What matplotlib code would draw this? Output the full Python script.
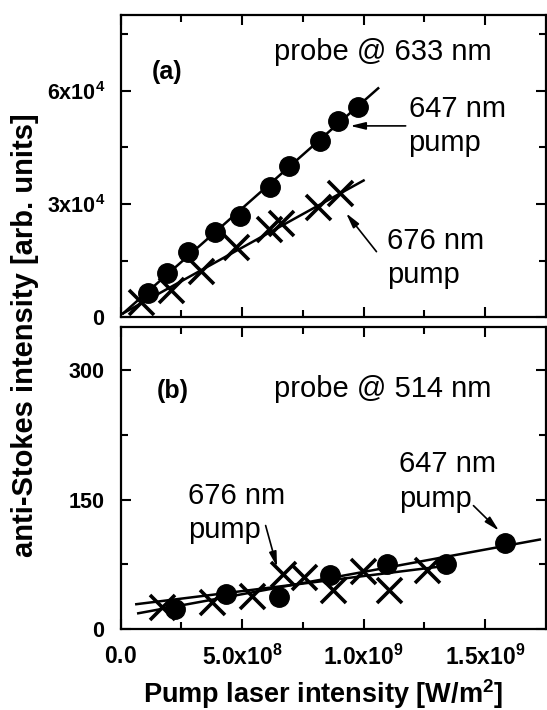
import matplotlib
matplotlib.use('Agg')
import matplotlib.pyplot as plt
from matplotlib.ticker import FixedLocator

plt.rcParams['font.family'] = ['Liberation Sans', 'DejaVu Sans']
plt.rcParams['mathtext.fontset'] = 'custom'
plt.rcParams['mathtext.rm'] = 'Liberation Sans'
plt.rcParams['mathtext.bf'] = 'Liberation Sans:bold'
plt.rcParams['mathtext.it'] = 'Liberation Sans:italic'

# ---------------- data ----------------
# panel (a): probe @ 633 nm
a_647_x = [1.14e8, 1.90e8, 2.76e8, 3.90e8, 4.92e8, 6.15e8, 6.93e8, 8.20e8, 8.96e8, 9.79e8]
a_647_y = [6350, 11650, 17210, 22670, 26820, 34420, 40060, 46760, 52050, 55600]
a_676_x = [0.86e8, 2.08e8, 3.33e8, 4.76e8, 6.10e8, 6.62e8, 8.12e8, 9.04e8]
a_676_y = [4130, 7230, 12340, 18690, 23300, 25050, 29280, 32990]
a_fit647_x = [0.10e8, 1.06e9]
a_fit647_y = [1000, 60600]
a_fit676_x = [0.11e8, 1.00e9]
a_fit676_y = [1060, 36200]

# panel (b): probe @ 514 nm
b_647_x = [2.24e8, 4.35e8, 6.53e8, 8.63e8, 1.097e9, 1.338e9, 1.58e9]
b_647_y = [23, 41, 37, 63, 75, 76, 100]
b_676_x = [1.70e8, 3.77e8, 5.41e8, 6.67e8, 7.55e8, 8.74e8, 9.96e8, 1.106e9, 1.26e9]
b_676_y = [26, 31, 39, 64, 61, 45, 67, 46, 69]
b_fit647_x = [0.73e8, 1.725e9]
b_fit647_y = [18.5, 103.8]
b_fit676_x = [0.65e8, 1.30e9]
b_fit676_y = [29, 72]

x_ticks = [0.0, 5.0e8, 1.0e9, 1.5e9]
x_ticklabels = [r'$\mathbf{0.0}$', r'$\mathbf{5.0x10^{8}}$', r'$\mathbf{1.0x10^{9}}$', r'$\mathbf{1.5x10^{9}}$']
x_minor = [2.5e8, 7.5e8, 1.25e9]
a_yticks = [0, 3e4, 6e4]
a_yticklabels = [r'$\mathbf{0}$', r'$\mathbf{3x10^{4}}$', r'$\mathbf{6x10^{4}}$']
a_yminor = [1.5e4, 4.5e4, 7.5e4]
b_yticks = [0, 150, 300]
b_yticklabels = [r'$\mathbf{0}$', r'$\mathbf{150}$', r'$\mathbf{300}$']
b_yminor = [75, 225]

# ---------------- figure ----------------
fig = plt.figure(figsize=(5.47, 7.10), dpi=100)
ax1 = fig.add_axes([0.2203, 0.5531, 0.7777, 0.4258])
ax2 = fig.add_axes([0.2203, 0.1137, 0.7777, 0.4262])

circ = dict(marker='o', ms=14, color='black', ls='none')
cross = dict(marker='x', ms=18, mew=2.6, color='black', ls='none')
fitkw = dict(color='black', lw=1.8)

def style(ax):
    for s in ax.spines.values():
        s.set_linewidth(1.6)
    ax.tick_params(which='both', direction='in', top=True, right=True, width=1.5)
    ax.tick_params(which='major', length=7)
    ax.tick_params(which='minor', length=5)
    ax.tick_params(axis='y', pad=11, labelsize=15.5)
    ax.tick_params(axis='x', pad=11, labelsize=16.5)
    ax.set_xlim(0, 1.75e9)
    ax.xaxis.set_major_locator(FixedLocator(x_ticks))
    ax.xaxis.set_minor_locator(FixedLocator(x_minor))

def arrow(ax, tail, tip):
    ax.annotate('', xy=tip, xytext=tail,
                arrowprops=dict(arrowstyle='-|>,head_length=0.9,head_width=0.22',
                                lw=1.2, color='black', shrinkA=0, shrinkB=0))

# panel (a)
ax1.plot(a_fit647_x, a_fit647_y, **fitkw)
ax1.plot(a_fit676_x, a_fit676_y, **fitkw)
ax1.plot(a_647_x, a_647_y, **circ)
ax1.plot(a_676_x, a_676_y, **cross)
style(ax1)
ax1.set_ylim(0, 8e4)
ax1.yaxis.set_major_locator(FixedLocator(a_yticks))
ax1.yaxis.set_minor_locator(FixedLocator(a_yminor))
ax1.set_yticklabels(a_yticklabels)
ax1.set_xticklabels([])
ax1.text(1.91e8, 64950, '(a)', fontsize=18, fontweight='bold', ha='center', va='center')
ax1.text(6.31e8, 70250, 'probe @ 633 nm', fontsize=21, ha='left', va='center')
ax1.text(1.185e9, 50700, '647 nm\npump', fontsize=21, ha='left', va='center', linespacing=1.28)
ax1.text(1.095e9, 15600, '676 nm\npump', fontsize=21, ha='left', va='center', linespacing=1.28)
arrow(ax1, (1.173e9, 50650), (9.45e8, 50650))
arrow(ax1, (1.053e9, 17370), (9.28e8, 27540))

# panel (b)
ax2.plot(b_fit647_x, b_fit647_y, **fitkw)
ax2.plot(b_fit676_x, b_fit676_y, **fitkw)
ax2.plot(b_647_x, b_647_y, **circ)
ax2.plot(b_676_x, b_676_y, **cross)
style(ax2)
ax2.set_ylim(0, 350)
ax2.yaxis.set_major_locator(FixedLocator(b_yticks))
ax2.yaxis.set_minor_locator(FixedLocator(b_yminor))
ax2.set_yticklabels(b_yticklabels)
ax2.set_xticklabels(x_ticklabels)
ax2.text(2.16e8, 276, '(b)', fontsize=18, fontweight='bold', ha='center', va='center')
ax2.text(6.31e8, 278, 'probe @ 514 nm', fontsize=21, ha='left', va='center')
ax2.text(1.146e9, 171, '647 nm\npump', fontsize=21, ha='left', va='center', linespacing=1.28)
ax2.text(2.79e8, 134, '676 nm\npump', fontsize=21, ha='left', va='center', linespacing=1.28)
arrow(ax2, (1.452e9, 143), (1.557e9, 114))
arrow(ax2, (5.97e8, 120), (6.44e8, 72))

fig.text(25 / 547, 1 - 335 / 710, 'anti-Stokes intensity [arb. units]', rotation=90,
         fontsize=21, fontweight='bold', ha='center', va='center')
fig.text(323 / 547, 1 - 694 / 710, r'Pump laser intensity [W/m$^\mathbf{2}$]',
         fontsize=19.5, fontweight='bold', ha='center', va='center')

fig.savefig('out.png', dpi=100)
